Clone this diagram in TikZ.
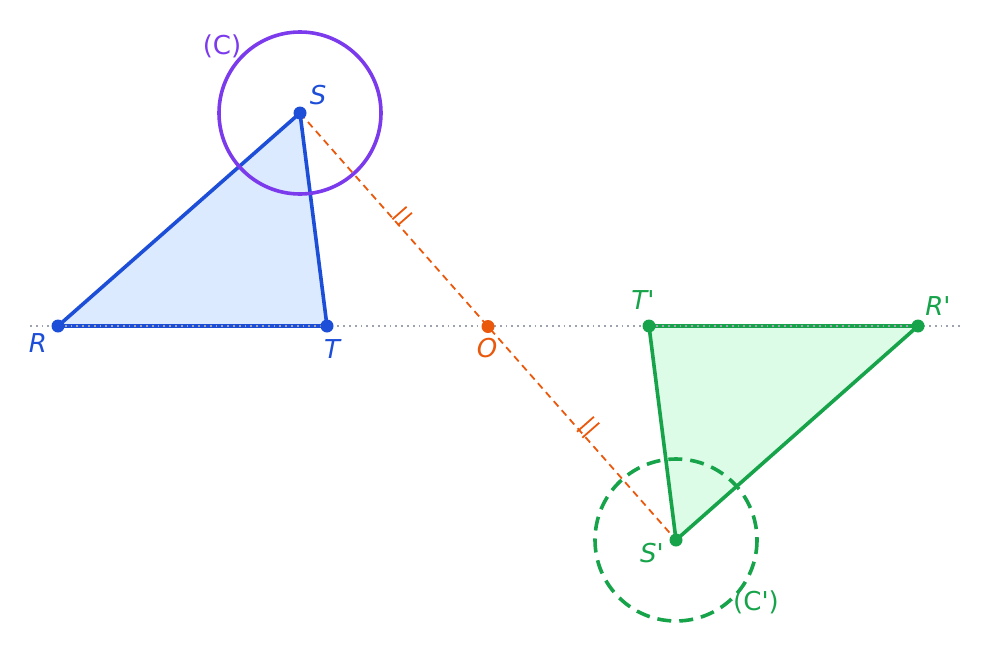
\documentclass[tikz,border=0pt]{standalone}
\usepackage{fontspec}
\newfontfamily\lab{DejaVu Sans}
\definecolor{tblue}{HTML}{1D4ED8}
\definecolor{tbluef}{HTML}{DBEAFE}
\definecolor{tgreen}{HTML}{16A34A}
\definecolor{tgreenf}{HTML}{DCFCE7}
\definecolor{tviolet}{HTML}{7C3AED}
\definecolor{torange}{HTML}{EA580C}
\definecolor{tgray}{HTML}{9CA3AF}
\begin{document}
\begin{tikzpicture}[x=1pt,y=-1pt,
  edge/.style={line width=3.6pt,line join=round,line cap=round},
  pt/.style={circle,fill,inner sep=0pt,minimum size=13pt},
  lbl/.style={font=\lab\fontsize{26}{30}\selectfont\itshape,inner sep=0pt},
  clbl/.style={font=\lab\fontsize{26}{30}\selectfont,inner sep=0pt},
  axisline/.style={tgray,line width=1.8pt,dash pattern=on 1.8pt off 4pt},
  symline/.style={torange,line width=1.8pt,dash pattern=on 7pt off 5pt},
  tick/.style={torange,line width=1.8pt}]
\useasboundingbox (0,0) rectangle (987,653);
% coordinates
\coordinate (R) at (58,326);
\coordinate (T) at (327,326);
\coordinate (S) at (300,113);
\coordinate (O) at (488,326.5);
\coordinate (Tp) at (649,326);
\coordinate (Rp) at (918,326);
\coordinate (Sp) at (676,540);
\coordinate (AL) at (30,326);
\coordinate (AR) at (962,326);
% tick end points (pixel coordinates)
\coordinate (a1) at (392.4,219.3); \coordinate (a2) at (406.6,206.8);
\coordinate (b1) at (397.7,225.3); \coordinate (b2) at (411.9,212.8);
\coordinate (c1) at (577.0,431.7); \coordinate (c2) at (593.9,416.8);
\coordinate (d1) at (582.3,437.7); \coordinate (d2) at (599.2,422.8);
% triangles
\fill[tbluef] (R) -- (S) -- (T) -- cycle;
\fill[tgreenf] (Rp) -- (Sp) -- (Tp) -- cycle;
\draw[edge,tblue] (R) -- (S) -- (T) -- cycle;
\draw[edge,tgreen] (Rp) -- (Sp) -- (Tp) -- cycle;
% circles
\draw[tviolet,line width=3.6pt] (S) circle[radius=81];
\draw[tgreen,line width=3.6pt,dash pattern=on 14pt off 8pt] (Sp) circle[radius=81];
% axis
\draw[axisline] (AL) -- (AR);
% symmetry segment
\draw[symline] (S) -- (Sp);
% ticks
\draw[tick] (a1) -- (a2);
\draw[tick] (b1) -- (b2);
\draw[tick] (c1) -- (c2);
\draw[tick] (d1) -- (d2);
% points
\node[pt,tblue] (nR) at (R) {};
\node[pt,tblue] (nT) at (T) {};
\node[pt,tblue] (nS) at (S) {};
\node[pt,torange] (nO) at (O) {};
\node[pt,tgreen] (nTp) at (Tp) {};
\node[pt,tgreen] (nRp) at (Rp) {};
\node[pt,tgreen] (nSp) at (Sp) {};
% labels
\node[lbl,tblue] (lS) at (318,95) {S};
\node[lbl,tblue] (lR) at (38,343) {R};
\node[lbl,tblue] (lT) at (332,349) {T};
\node[lbl,torange] (lO) at (487,348) {O};
\node[lbl,tgreen] (lTp) at (643,300) {T'};
\node[lbl,tgreen] (lRp) at (938,306) {R'};
\node[lbl,tgreen] (lSp) at (652,553) {S'};
\node[clbl,tviolet] (lC) at (222,46) {(C)};
\node[clbl,tgreen] (lCp) at (756,602) {(C')};
\end{tikzpicture}
\end{document}
